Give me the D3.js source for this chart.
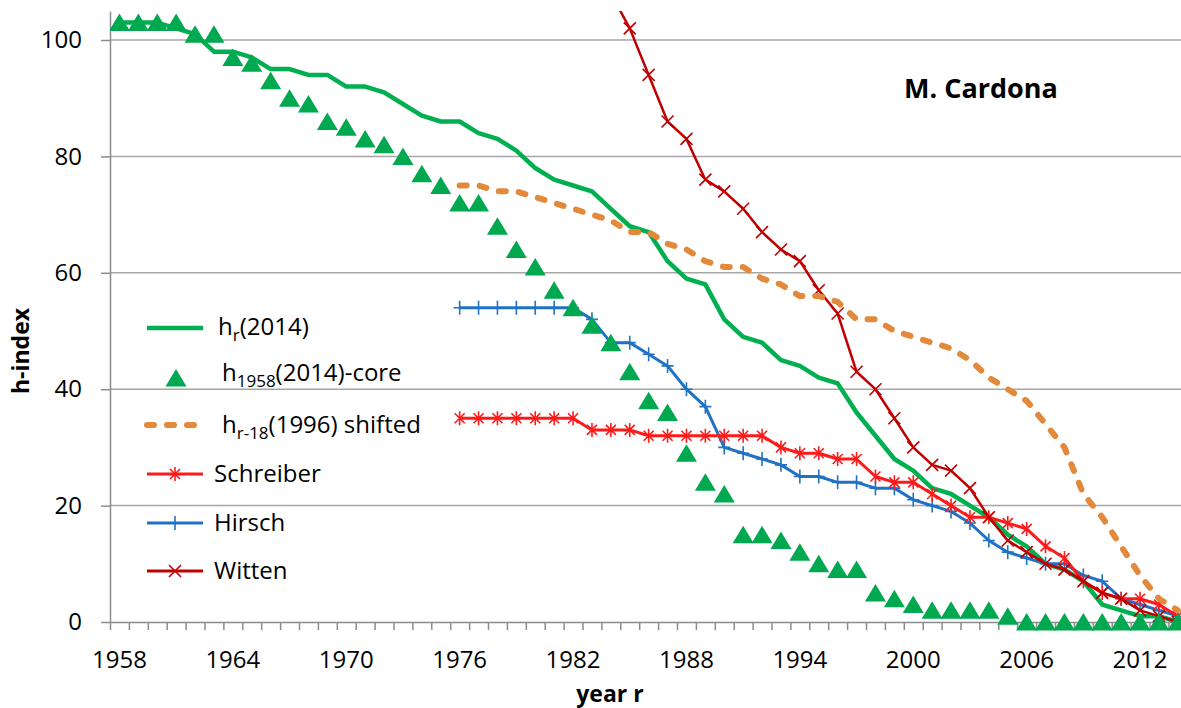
<!DOCTYPE html>
<html>
<head>
<meta charset="utf-8">
<script src="https://cdn.jsdelivr.net/npm/d3@7"></script>
<style>
  body { margin: 0; background: #fff; }
  svg text { font-family: "Open Sans", sans-serif; fill: #000; }
</style>
</head>
<body>
<div id="chart"></div>
<script>
'use strict';

// category axis: one slot per year
const years = d3.range(1958, 2015);
const tickYears = [1958, 1964, 1970, 1976, 1982, 1988, 1994, 2000, 2006, 2012];
const yTicks = [0, 20, 40, 60, 80, 100];

// h_r(2014), 1958..2014
const hr2014 = [103, 103, 103, 102, 101, 98, 98, 97, 95, 95, 94, 94, 92, 92, 91, 89, 87, 86, 86, 84,
  83, 81, 78, 76, 75, 74, 71, 68, 67, 62, 59, 58, 52, 49, 48, 45, 44, 42, 41, 36,
  32, 28, 26, 23, 22, 20, 18, 15, 13, 10, 9, 7, 3, 2, 1, 1, 0];

// h_1958(2014)-core, 1958..2014
const core1958 = [103, 103, 103, 103, 101, 101, 97, 96, 93, 90, 89, 86, 85, 83, 82, 80, 77, 75, 72, 72,
  68, 64, 61, 57, 54, 51, 48, 43, 38, 36, 29, 24, 22, 15, 15, 14, 12, 10, 9, 9,
  5, 4, 3, 2, 2, 2, 2, 1, 0, 0, 0, 0, 0, 0, 0, 0, 0];

// the three bibliometric indices and the shifted curve start in 1976
const lateYears = d3.range(1976, 2015);
const hrShifted = [75, 75, 74, 74, 73, 72, 71, 70, 69, 67, 67, 65, 64, 62, 61, 61, 59, 58, 56, 56,
  55, 52, 52, 50, 49, 48, 47, 45, 42, 40, 38, 34, 30, 22, 18, 13, 8, 4, 2];
const schreiber = [35, 35, 35, 35, 35, 35, 35, 33, 33, 33, 32, 32, 32, 32, 32, 32, 32, 30, 29, 29,
  28, 28, 25, 24, 24, 22, 20, 18, 18, 17, 16, 13, 11, 7, 5, 4, 4, 3, 1];
const hirsch = [54, 54, 54, 54, 54, 54, 54, 52, 48, 48, 46, 44, 40, 37, 30, 29, 28, 27, 25, 25,
  24, 24, 23, 23, 21, 20, 19, 17, 14, 12, 11, 10, 10, 8, 7, 4, 3, 2, 1];

// Witten, 1984..2014 (first value runs off the top)
const wittenYears = d3.range(1984, 2015);
const witten = [108, 102, 94, 86, 83, 76, 74, 71, 67, 64, 62, 57, 53, 43, 40, 35, 30, 27, 26, 23,
  18, 14, 12, 10, 9, 7, 5, 4, 2, 1, 0];

(function() {

  const W = 1181, H = 708;
  const left = 110, right = 1187.3, top = 10.9, bottom = 622;

  const green = "#00B050", orange = "#E2893B", red = "#FF1A1A",
        blue = "#1F72C4", darkRed = "#C00000", grid = "#A6A6A6";

  // marker shapes
  const triangle = "M0,-9L10.5,8.5L-10.5,8.5Z";
  const plus = "M-6,0H6M0,-7V7";
  const cross = "M-6,-6L6,6M-6,6L6,-6";
  const star = "M-5,-5L5,5M-5,5L5,-5M0,-7V7";

  let svg, x, y;

  window.onload = function() {
    svg = d3.select("#chart")
      .append("svg")
      .attr("width", W)
      .attr("height", H);

    // categories centred in their slots, like a spreadsheet category axis
    x = d3.scaleLinear()
      .domain([1957.5, 2014.5])
      .range([left, right]);
    y = d3.scaleLinear()
      .domain([0, 105])
      .range([bottom, top]);

    drawAxes();
    drawSeries();
    drawLegend();
    makeLabels();
  };

  function pairs(yrs, vals) {
    return vals.map((v, i) => ({ yr: yrs[i], v: v }));
  }

  function drawAxes() {
    // horizontal gridlines
    svg.append("g")
      .selectAll("line")
      .data(yTicks.filter((d) => d > 0))
      .enter()
      .append("line")
        .attr("x1", left)
        .attr("x2", W)
        .attr("y1", (d) => y(d))
        .attr("y2", (d) => y(d))
        .attr("stroke", grid)
        .attr("stroke-width", 1.5);

    // y axis
    let yAxis = svg.append("g")
      .attr("transform", "translate(" + left + ",0)")
      .call(d3.axisLeft(y).tickValues(yTicks).tickSize(9).tickSizeOuter(0).tickPadding(19));
    yAxis.select(".domain").attr("stroke", "#8C8C8C").attr("stroke-width", 1.5);
    yAxis.selectAll(".tick line").attr("stroke", "#8C8C8C").attr("stroke-width", 1.5);
    yAxis.selectAll("text")
      .style("font-family", "'Open Sans', sans-serif")
      .style("font-size", "24px")
      .attr("fill", "#000");

    // x axis: tick marks between categories
    let xAxis = svg.append("g")
      .attr("transform", "translate(0," + bottom + ")")
      .call(d3.axisBottom(x)
        .tickValues(d3.range(1957.5, 2015, 1))
        .tickSize(8)
        .tickSizeOuter(0)
        .tickFormat(""));
    xAxis.select(".domain").attr("stroke", "#8C8C8C").attr("stroke-width", 1.5);
    xAxis.selectAll(".tick line").attr("stroke", "#8C8C8C").attr("stroke-width", 1.5);

    svg.append("g")
      .selectAll("text")
      .data(tickYears)
      .enter()
      .append("text")
        .attr("x", (d) => x(d))
        .attr("y", 668)
        .attr("text-anchor", "middle")
        .style("font-size", "24px")
        .text((d) => d);
  }

  function drawSeries() {
    svg.append("clipPath")
      .attr("id", "plotClip")
      .append("rect")
        .attr("x", left)
        .attr("y", top)
        .attr("width", right - left + 20)
        .attr("height", H - top);

    let plot = svg.append("g").attr("clip-path", "url(#plotClip)");

    let line = d3.line()
      .x((d) => x(d.yr))
      .y((d) => y(d.v));

    function addLine(data, color, width, dash) {
      let p = plot.append("path")
        .datum(data)
        .attr("fill", "none")
        .attr("stroke", color)
        .attr("stroke-width", width)
        .attr("stroke-linejoin", "round")
        .attr("d", line);
      if (dash) {
        p.attr("stroke-dasharray", dash).attr("stroke-linecap", "round");
      }
      return p;
    }

    function addMarkers(data, shape, color, width) {
      plot.append("g")
        .selectAll("path")
        .data(data)
        .enter()
        .append("path")
          .attr("transform", (d) => "translate(" + x(d.yr) + "," + y(d.v) + ")")
          .attr("d", shape)
          .attr("fill", "none")
          .attr("stroke", color)
          .attr("stroke-width", width);
    }

    let hrData = pairs(years, hr2014);
    let hirschData = pairs(lateYears, hirsch);
    let schreiberData = pairs(lateYears, schreiber);
    let wittenData = pairs(wittenYears, witten);
    let shiftedData = pairs(lateYears, hrShifted);
    let coreData = pairs(years, core1958);

    addLine(hrData, green, 4.5);

    addLine(hirschData, blue, 3);
    addMarkers(hirschData, plus, blue, 1.6);

    addLine(schreiberData, red, 3);
    addMarkers(schreiberData, star, red, 1.6);

    addLine(wittenData, darkRed, 2.5);
    addMarkers(wittenData, cross, darkRed, 1.6);

    addLine(shiftedData, orange, 6, "7,13");

    // core triangles
    plot.append("g")
      .selectAll("path")
      .data(coreData)
      .enter()
      .append("path")
        .attr("transform", (d) => "translate(" + x(d.yr) + "," + y(d.v) + ")")
        .attr("d", triangle)
        .attr("fill", "#00A84F");
  }

  function drawLegend() {
    let lg = svg.append("g");
    let x1 = 147, x2 = 203, xm = 175;

    function sample(yy, color, width, dash) {
      let l = lg.append("line")
        .attr("x1", x1).attr("x2", x2)
        .attr("y1", yy).attr("y2", yy)
        .attr("stroke", color)
        .attr("stroke-width", width);
      if (dash) l.attr("stroke-dasharray", dash).attr("stroke-linecap", "round");
    }

    function marker(yy, shape, color) {
      lg.append("path")
        .attr("transform", "translate(" + xm + "," + yy + ")")
        .attr("d", shape)
        .attr("fill", "none")
        .attr("stroke", color)
        .attr("stroke-width", 1.6);
    }

    // label with optional subscript after the leading "h"
    function label(tx, ty, main, sub, rest) {
      let t = lg.append("text")
        .attr("x", tx)
        .attr("y", ty)
        .style("font-size", "24px");
      t.append("tspan").text(main);
      if (sub) {
        t.append("tspan").attr("dy", 6).style("font-size", "17px").text(sub);
        t.append("tspan").attr("dy", -6).text(rest);
      }
    }

    sample(328, green, 4.5);
    label(218, 335, "h", "r", "(2014)");

    lg.append("path")
      .attr("transform", "translate(176,378)")
      .attr("d", triangle)
      .attr("fill", "#00A84F");
    label(222, 381, "h", "1958", "(2014)-core");

    sample(425, orange, 6, "7,13");
    label(222, 433, "h", "r-18", "(1996) shifted");

    sample(474, red, 3);
    marker(474, star, red);
    label(214, 482, "Schreiber");

    sample(523, blue, 3);
    marker(523, plus, blue);
    label(214, 531, "Hirsch");

    sample(571, darkRed, 3);
    marker(571, cross, darkRed);
    label(214, 579, "Witten");
  }

  // title and axis labels
  function makeLabels() {
    svg.append("text")
      .attr("x", 904)
      .attr("y", 98)
      .style("font-size", "27px")
      .style("font-weight", "bold")
      .text("M. Cardona");

    svg.append("text")
      .attr("transform", "translate(29,351)rotate(-90)")
      .attr("text-anchor", "middle")
      .style("font-size", "23px")
      .style("font-weight", "bold")
      .text("h-index");

    svg.append("text")
      .attr("x", 610)
      .attr("y", 702)
      .attr("text-anchor", "middle")
      .style("font-size", "23px")
      .style("font-weight", "bold")
      .text("year r");
  }

})();
</script>
</body>
</html>
